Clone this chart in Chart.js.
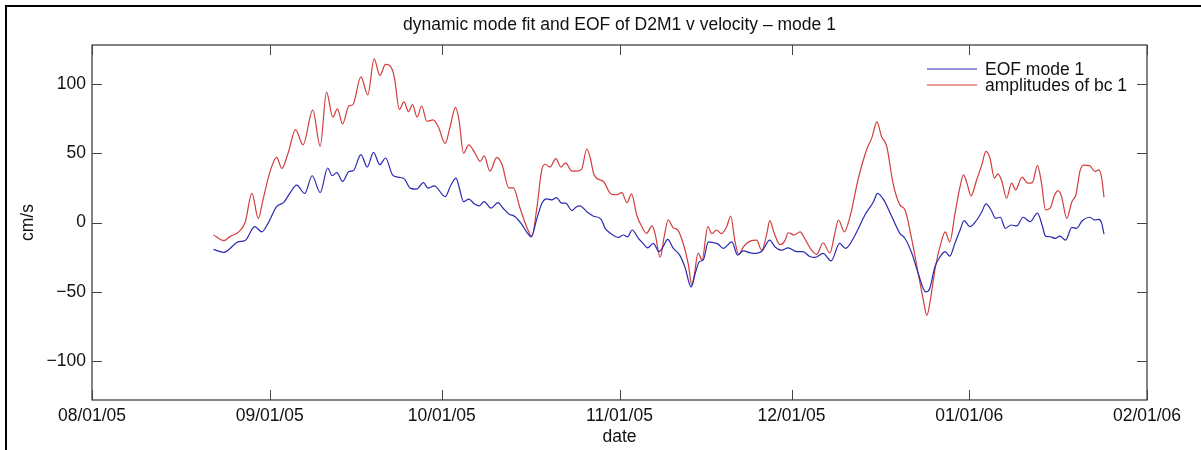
<!DOCTYPE html>
<html>
<head>
<meta charset="utf-8">
<title>dynamic mode fit and EOF of D2M1 v velocity</title>
<script src="https://cdn.jsdelivr.net/npm/chart.js@4/dist/chart.umd.min.js"></script>
<style>
  html, body { margin: 0; padding: 0; background: #fff; }
  canvas { display: block; }
</style>
</head>
<body>
<canvas id="chart" width="1201" height="450"></canvas>
<script>
// days since 08/01/05
const tickDays   = [0, 31, 61, 92, 122, 153, 184];
const tickLabels = ['08/01/05', '09/01/05', '10/01/05', '11/01/05', '12/01/05', '01/01/06', '02/01/06'];
const yTicks     = [-100, -50, 0, 50, 100];
const chartTitle = 'dynamic mode fit and EOF of D2M1 v velocity – mode 1';

// amplitudes of bc 1 (red)
const redDays = [21.2, 23.0, 24.1, 25.5, 26.7, 27.9, 29.0, 29.8, 31.0, 32.2, 33.1, 34.2, 35.5, 36.8, 38.5, 39.8,
  40.9, 42.0, 42.8, 43.7, 44.8, 45.5, 46.9, 48.1, 49.2, 50.2, 51.2, 52.4, 52.8, 53.6, 54.4, 55.2, 55.9, 56.7,
  57.5, 58.4, 59.5, 60.4, 61.6, 62.4, 63.4, 64.0, 64.8, 65.7, 66.8, 67.7, 68.4, 69.4, 70.6, 71.5, 72.7, 73.5,
  74.6, 75.8, 76.7, 77.6, 78.4, 79.0, 79.9, 80.9, 81.8, 82.6, 83.7, 84.5, 85.4, 86.3, 86.9, 87.6, 89.2, 90.5,
  91.5, 92.4, 93.3, 94.1, 95.0, 95.9, 96.7, 97.7, 98.2, 99.1, 99.8, 100.5, 101.4, 102.1, 103.1, 104.0, 104.6,
  105.0, 105.7, 106.4, 107.4, 108.1, 108.9, 109.8, 110.7, 111.4, 112.1, 112.8, 113.6, 114.8, 115.9, 116.8,
  117.7, 118.2, 119.0, 120.0, 120.9, 121.4, 122.5, 123.5, 124.3, 125.5, 126.4, 127.5, 128.7, 129.5, 130.2,
  131.2, 132.2, 133.6, 135.1, 136.0, 136.9, 137.7, 138.6, 139.7, 140.9, 141.8, 143.0, 144.1, 145.0, 145.6,
  146.3, 147.1, 148.2, 148.8, 149.6, 150.5, 151.3, 152.0, 152.6, 153.3, 154.3, 155.2, 155.9, 156.6, 157.4,
  158.0, 158.7, 159.5, 160.4, 161.1, 162.2, 163.2, 164.0, 164.9, 165.6, 166.3, 167.1, 167.9, 168.5, 169.1,
  170.0, 170.9, 171.6, 172.3, 172.9, 174.0, 174.9, 175.6, 176.1, 176.5];
const redVals = [-9, -13, -10, -7, 0, 21, 3, 16, 36, 47, 39, 50, 67, 56, 81, 55,
  94, 76, 82, 71, 84, 85, 105, 92, 118, 106, 114, 110, 103, 81.5, 87, 80, 85, 76,
  84, 73, 74, 69, 57, 68, 83, 74, 50, 56, 50, 44, 48, 37, 47, 42, 25, 25,
  11, -3, -10, 11, 37, 42, 40, 46, 40, 43, 37, 37, 38.5, 53, 46.5, 34, 29.6, 20.6,
  20, 21.6, 14.3, 20.6, 5.4, -3, -7.8, -2.5, -8, -25, -10, 2, -4, -5, -15, -30, -45,
  -39, -22, -27, -3, -8, -5.4, -8, -3, 4.7, -12.7, -23, -17.5, -13.4, -12.7, -20,
  -8, 1.3, -8, -16, -12.7, -7.4, -9, -6.7, -11.5, -20, -23, -14.6, -22, -9, 1.8,
  -6.7, 4.2, 30.8, 52.5, 61, 72.6, 62, 55, 28.4, 12.7, 9, -12.7, -36.8, -56, -67,
  -53.7, -32, -12.7, -6.7, -14, 6, 24, 34.4, 28.4, 19.2, 30.8, 41.7, 51.3, 46.5, 32,
  35, 29.6, 17.5, 28.4, 23.5, 32.7, 28.4, 28.8, 41, 28.4, 9, 10.3, 20, 23, 18.7,
  3, 15, 20, 36.8, 41.4, 41, 36.8, 38, 32, 18.3];

// EOF mode 1 (blue)
const blueDays = [21.2, 23.0, 25.5, 26.7, 28.4, 29.6, 30.7, 32.2, 33.4, 34.5, 35.7, 37.1, 38.4, 39.8, 41.1,
  41.9, 42.7, 43.7, 44.8, 45.6, 46.9, 48.0, 49.1, 50.2, 51.2, 52.4, 53.4, 54.5, 55.5, 56.6, 57.8, 58.6, 59.7,
  61.6, 62.6, 63.5, 64.0, 64.8, 65.7, 66.7, 67.5, 68.4, 69.6, 70.8, 71.7, 72.7, 73.8, 74.9, 75.8, 76.6, 77.6,
  78.5, 79.3, 80.2, 81.0, 81.9, 82.6, 83.7, 84.4, 85.1, 86.3, 87.4, 88.8, 89.5, 90.6, 91.8, 92.7, 93.4, 94.2,
  95.3, 96.1, 96.9, 97.9, 98.9, 99.6, 100.4, 101.4, 102.5, 103.4, 104.5, 105.2, 105.9, 106.6, 107.5, 108.4,
  109.2, 110.1, 111.6, 112.6, 113.6, 114.8, 115.9, 116.9, 118.2, 119.1, 120.3, 121.4, 122.9, 124.0, 125.1,
  126.1, 127.5, 128.9, 130.4, 131.4, 133.1, 134.8, 136.3, 137.0, 138.0, 139.5, 140.9, 141.8, 143.0, 144.1,
  145.4, 146.1, 147.0, 147.9, 148.8, 149.6, 150.5, 151.4, 152.1, 153.1, 154.3, 155.2, 155.9, 156.8, 157.6,
  158.4, 159.3, 160.3, 161.3, 162.4, 163.6, 164.9, 165.7, 166.3, 167.2, 168.0, 168.8, 169.8, 170.9, 171.7,
  172.7, 174.0, 174.9, 175.6, 176.1, 176.5];
const blueVals = [-19.4, -21.5, -14, -13, -3, -6.7, -0.6, 11.5, 14.3, 21, 27, 21, 33.7, 21.6, 39.3,
  33.7, 36, 29.6, 36.8, 37.5, 49, 40, 50.6, 41.7, 46.5, 34.4, 32.7, 31.3, 24.8, 24, 28.8, 24.8, 26.4,
  18.7, 27, 32, 26, 15, 16.8, 13.4, 12, 15, 10.3, 14.3, 10.3, 6.2, 4.2, -1, -6.7, -10.3, 3,
  14, 17, 16.3, 18, 14, 14, 8.6, 11, 12, 7.8, 4.7, 2.3, -4.2, -8.3, -10.7, -9, -10.3, -5.4,
  -11.5, -15, -18.3, -15, -21, -17.5, -12.2, -18.7, -23.5, -32, -46.5, -36.8, -28.4, -27, -14, -14.6,
  -15.6, -18.7, -14, -23.5, -20.4, -21.9, -22.3, -20.4, -12.7, -17.5, -20, -18.3, -21, -21, -24.3,
  -25.2, -22.3, -27.7, -15, -18.7, -9, 5.4, 15, 21, 16.8, 4.2, -7.8, -11.5, -22.3, -36.8,
  -50, -47.7, -32, -24.8, -21, -24.3, -15, -5.4, 1.3, -3, 1.8, 7.8, 13.4, 9, 3,
  3.8, -4.2, -1.8, -2.5, 3.8, 0.6, 6.7, -1.8, -9.8, -10.3, -11.5, -9.8, -12.7, -3.5, -4.2,
  1.3, 3.8, 1.8, 2.3, -0.6, -8.3];

const FONT = '"Liberation Sans", Arial, Helvetica, sans-serif';
const TXT  = '#111';

function pairs(xs, ys) {
    return xs.map((x, i) => ({ x: x, y: ys[i] }));
}

// cadre noir en haut et à gauche, titre, boîte des axes, graduations vers l'intérieur, légende
const framePlugin = {
    id: 'frame',
    beforeDraw(chart) {
        const ctx = chart.ctx;
        const a   = chart.chartArea;
        ctx.save();
        ctx.fillStyle = '#fff';
        ctx.fillRect(0, 0, chart.width, chart.height);
        ctx.fillStyle = '#000';
        ctx.fillRect(5, 5, chart.width - 5, 2);
        ctx.fillRect(5, 5, 2, chart.height - 5);

        // titre centré sur la zone du graphe
        ctx.fillStyle = TXT;
        ctx.font = '17.5px ' + FONT;
        ctx.textAlign = 'center';
        ctx.textBaseline = 'middle';
        ctx.fillText(chartTitle, (a.left + a.right) / 2, 25);
        ctx.restore();
    },
    afterDatasetsDraw(chart) {
        const ctx = chart.ctx;
        const a   = chart.chartArea;
        const xs  = chart.scales.x;
        const ys  = chart.scales.y;
        const tl  = 10;
        ctx.save();
        ctx.strokeStyle = '#333';
        ctx.lineWidth = 1.2;
        ctx.strokeRect(a.left, a.top, a.right - a.left, a.bottom - a.top);

        ctx.strokeStyle = '#444';
        ctx.lineWidth = 1;
        ctx.beginPath();
        tickDays.forEach(d => {
            const px = Math.round(xs.getPixelForValue(d)) + 0.5;
            ctx.moveTo(px, a.bottom); ctx.lineTo(px, a.bottom - tl);
            ctx.moveTo(px, a.top);    ctx.lineTo(px, a.top + tl);
        });
        yTicks.forEach(v => {
            const py = Math.round(ys.getPixelForValue(v)) + 0.5;
            ctx.moveTo(a.left, py);  ctx.lineTo(a.left + tl, py);
            ctx.moveTo(a.right, py); ctx.lineTo(a.right - tl, py);
        });
        ctx.stroke();

        // légende
        const lx = a.right - 220;
        chart.data.datasets.forEach((ds, i) => {
            const ly = a.top + 24 + i * 16;
            ctx.strokeStyle = ds.borderColor;
            ctx.lineWidth = 1.2;
            ctx.beginPath();
            ctx.moveTo(lx, ly); ctx.lineTo(lx + 50, ly);
            ctx.stroke();
            ctx.fillStyle = TXT;
            ctx.font = '17.5px ' + FONT;
            ctx.textBaseline = 'middle';
            ctx.textAlign = 'left';
            ctx.fillText(ds.label, lx + 58, ly + 1);
        });
        ctx.restore();
    }
};

new Chart(document.getElementById('chart').getContext('2d'), {
    type: 'line',
    data: {
        datasets: [
            {
                label: 'EOF mode 1',
                data: pairs(blueDays, blueVals),
                borderColor: '#2a2ab0',
                borderWidth: 1.2,
                pointRadius: 0,
                cubicInterpolationMode: 'monotone',
                fill: false,
            },
            {
                label: 'amplitudes of bc 1',
                data: pairs(redDays, redVals),
                borderColor: '#d23c3c',
                borderWidth: 1.2,
                pointRadius: 0,
                cubicInterpolationMode: 'monotone',
                fill: false,
            }
        ]
    },
    options: {
        responsive: false,
        animation: false,
        devicePixelRatio: 1,
        layout: { padding: { left: 0, right: 54, top: 45, bottom: 0 } },
        plugins: {
            legend: { display: false },
            tooltip: { enabled: false },
            title: { display: false },
        },
        scales: {
            x: {
                type: 'linear',
                min: tickDays[0],
                max: tickDays[tickDays.length - 1],
                grid: { display: false, drawTicks: false },
                border: { display: false },
                afterBuildTicks: s => { s.ticks = tickDays.map(v => ({ value: v })); },
                afterFit: s => { s.height = 50; },
                ticks: {
                    padding: 6,
                    maxRotation: 0,
                    autoSkip: false,
                    color: TXT,
                    font: { family: FONT, size: 17.5 },
                    callback: v => tickLabels[tickDays.indexOf(v)],
                },
                title: {
                    display: true,
                    text: 'date',
                    color: TXT,
                    font: { family: FONT, size: 17.5, lineHeight: 1.2 },
                    padding: { top: 0, bottom: 2 },
                }
            },
            y: {
                min: -128,
                max: 128,
                grid: { display: false, drawTicks: false },
                border: { display: false },
                afterBuildTicks: s => { s.ticks = yTicks.map(v => ({ value: v })); },
                afterFit: s => { s.width = 92; },
                ticks: {
                    padding: 6,
                    color: TXT,
                    font: { family: FONT, size: 17.5 },
                    callback: v => (v < 0 ? '\u2212' + Math.abs(v) : String(v)),
                },
                title: {
                    display: true,
                    text: 'cm/s',
                    color: TXT,
                    font: { family: FONT, size: 17.5, lineHeight: 1.2 },
                    padding: { top: 18, bottom: 0 },
                }
            }
        }
    },
    plugins: [framePlugin]
});
</script>
</body>
</html>
